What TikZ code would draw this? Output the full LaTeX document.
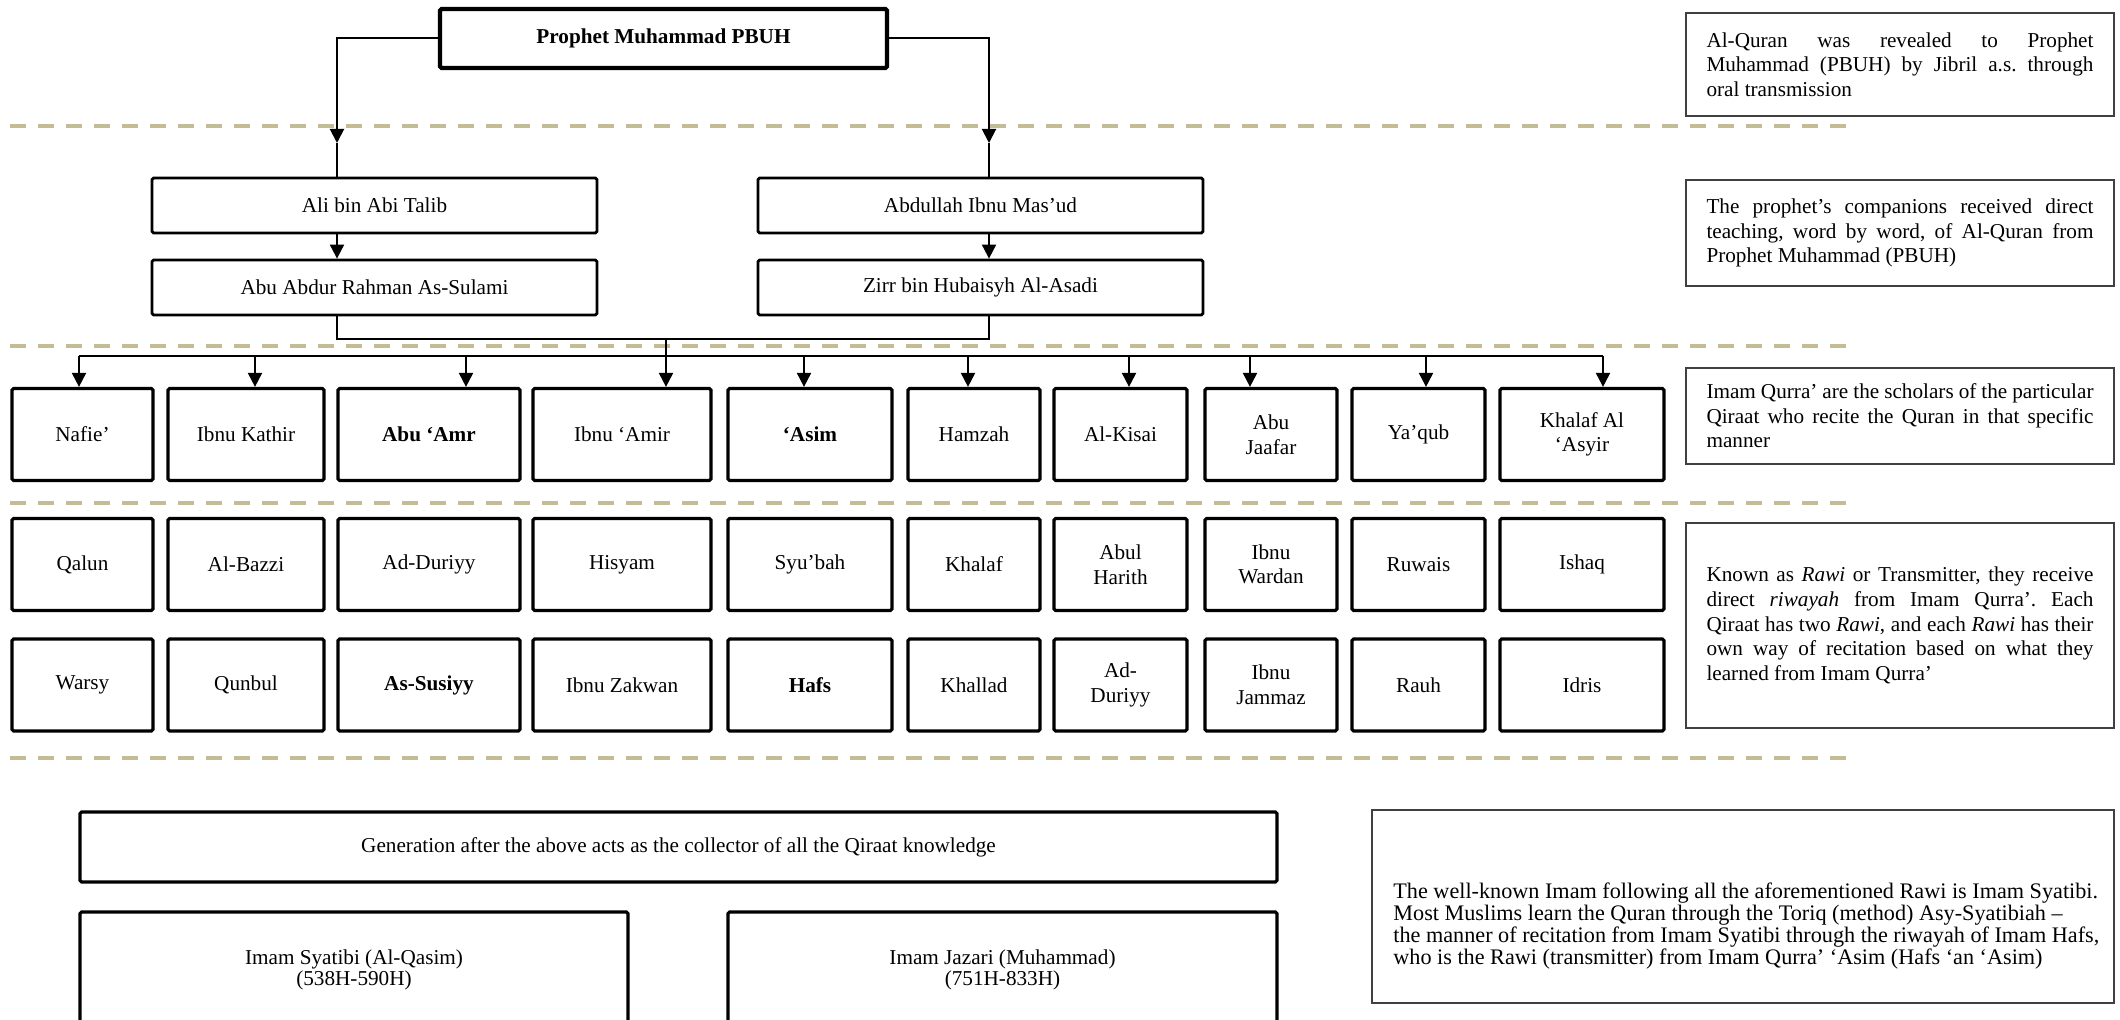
\documentclass[tikz,border=0pt]{standalone}
\usepackage{fontspec}
\setmainfont{Liberation Serif}
\usetikzlibrary{arrows.meta}
\definecolor{sepTan}{HTML}{C4BC96}
\definecolor{noteGray}{HTML}{404040}
\hyphenpenalty=10000
\exhyphenpenalty=10000
\frenchspacing

\begin{document}
\begin{tikzpicture}[x=0.5pt, y=-0.5pt,
    every node/.style={font=\fontsize{10.6}{12.3}\selectfont},
    box/.style={draw, line width=1.6pt, rounded corners=0.8pt, inner sep=0pt, align=center, minimum height=46pt},
    topbox/.style={box, line width=2.1pt, minimum width=223.5pt, minimum height=29.5pt, font=\fontsize{10.6}{12.3}\selectfont\bfseries},
    compbox/.style={box, line width=1.4pt, minimum width=222.5pt, minimum height=27.5pt},
    notebox/.style={draw=noteGray, line width=0.6pt, text width=193.5pt, align=justify, inner xsep=10.25pt, inner ysep=0pt},
    arr/.style={-{Triangle[length=7pt,width=7pt]}, line width=1pt},
    link/.style={line width=1pt},
    sep/.style={sepTan, line width=2pt, dash pattern=on 8pt off 6pt}]
	\useasboundingbox (0,0) rectangle (2120,1020);
	\clip (0,0) rectangle (2120,1020);
	
	% separators
	\foreach \y in {126,346,503,758} {
		\draw[sep] (10,\y) -- (1850,\y);
	}
	
	\node[topbox] (pm) at (663.5,38.5) {Prophet Muhammad PBUH};
	\node[compbox] (ali) at (374.5,205.5) {Ali bin Abi Talib};
	\node[compbox] (abd) at (980.5,205.5) {Abdullah Ibnu Mas’ud};
	\node[compbox] (abu) at (374.5,287.5) {Abu Abdur Rahman As-Sulami};
	\node[compbox] (zirr) at (980.5,287.5) {Zirr bin Hubaisyh Al-Asadi};
	
	\coordinate (lcol) at (337,143);
	\coordinate (rcol) at (989,143);
	\draw[arr] (pm.west) -| (lcol);
	\draw[link] (lcol) -- (lcol |- ali.north);
	\draw[arr] (pm.east) -| (rcol);
	\draw[link] (rcol) -- (rcol |- abd.north);
	\draw[arr] (lcol |- ali.south) -- (lcol |- abu.north);
	\draw[arr] (rcol |- abd.south) -- (rcol |- zirr.north);
	
	\coordinate (brk) at (0,339);
	\coordinate (bus) at (0,356);
	\draw[link] (lcol |- abu.south) -- (lcol |- brk) -- (rcol |- brk) -- (rcol |- zirr.south);
	
	% Qurra and their two Rawi
	\foreach \i/\x/\w/\dx/\qa/\ra/\rb in {
		1/82.5/70.5/-1.75/{Nafie’}/{Qalun}/{Warsy},
		2/246/78/4.5/{Ibnu Kathir}/{Al-Bazzi}/{Qunbul},
		3/429/91/18.5/{\textbf{Abu ‘Amr}}/{Ad-Duriyy}/{\textbf{As-Susiyy}},
		4/622/89/22/{Ibnu ‘Amir}/{Hisyam}/{Ibnu Zakwan},
		5/810/82/-3/{\textbf{‘Asim}}/{Syu’bah}/{\textbf{Hafs}},
		6/974/66/-3/{Hamzah}/{Khalaf}/{Khallad},
		7/1120.5/66.5/4.25/{Al-Kisai}/{Abul\\Harith}/{Ad-\\Duriyy},
		8/1271/66/-10.5/{Abu\\Jaafar}/{Ibnu\\Wardan}/{Ibnu\\Jammaz},
		9/1418.5/66.5/3.75/{Ya’qub}/{Ruwais}/{Rauh},
		10/1582/82/10.5/{Khalaf Al\\‘Asyir}/{Ishaq}/{Idris}} {
		\node[box, minimum width=\w pt] (q\i) at (\x,434.5) {\qa};
		\node[box, minimum width=\w pt] (ra\i) at (\x,564.5) {\ra};
		\node[box, minimum width=\w pt] (rb\i) at (\x,685) {\rb};
		\coordinate (d\i) at ([xshift=\dx pt]q\i.north);
	}
	
	\draw[link] (d4 |- brk) -- (d4 |- bus);
	\draw[link] (d1 |- bus) -- (d10 |- bus);
	\foreach \i in {1,...,10} {
		\draw[arr] (d\i |- bus) -- (d\i);
	}
	
	% notes on the right
	\node[notebox, minimum height=51.5pt] (n1) at (1900,64.5) {Al-Quran was revealed to Prophet Muhammad (PBUH) by Jibril a.s. through oral transmission};
	\node[notebox, minimum height=53pt] (n2) at (1900,233) {The prophet’s companions received direct teaching, word by word, of Al-Quran from Prophet Muhammad (PBUH)};
	\node[notebox, minimum height=48pt] (n3) at (1900,416) {Imam Qurra’ are the scholars of the particular Qiraat who recite the Quran in that specific manner};
	\node[notebox, minimum height=102.5pt] (n4) at (1900,625.5) {Known as \textit{Rawi} or Transmitter, they receive direct \textit{riwayah} from Imam Qurra’. Each\linebreak Qiraat has two \textit{Rawi}, and each \textit{Rawi} has their\linebreak own way of recitation based on what they\linebreak learned from Imam Qurra’};
	
	% collectors
	\node[box, minimum width=598.5pt, minimum height=35pt] (gen) at (678.5,847) {Generation after the above acts as the collector of all the Qiraat knowledge};
	\node[box, minimum width=274pt, minimum height=58pt, font=\fontsize{10.6}{10.6}\selectfont] (syat) at (354,970) {Imam Syatibi (Al-Qasim)\\(538H-590H)};
	\node[box, minimum width=274.5pt, minimum height=58pt, font=\fontsize{10.6}{10.6}\selectfont] (jaz) at (1002.5,970) {Imam Jazari (Muhammad)\\(751H-833H)};
	
	\node[draw=noteGray, line width=0.6pt, minimum width=371pt, minimum height=96.5pt] (synote) at (1743,906.5) {};
	\node[anchor=west, align=left, inner sep=0pt, font=\fontsize{11.1}{10.85}\selectfont] (sytext) at (1393,926) {The well-known Imam following all the aforementioned Rawi is Imam Syatibi.\\Most Muslims learn the Quran through the Toriq (method) Asy-Syatibiah –\\the manner of recitation from Imam Syatibi through the riwayah of Imam Hafs,\\who is the Rawi (transmitter) from Imam Qurra’ ‘Asim (Hafs ‘an ‘Asim)};
\end{tikzpicture}
\end{document}
